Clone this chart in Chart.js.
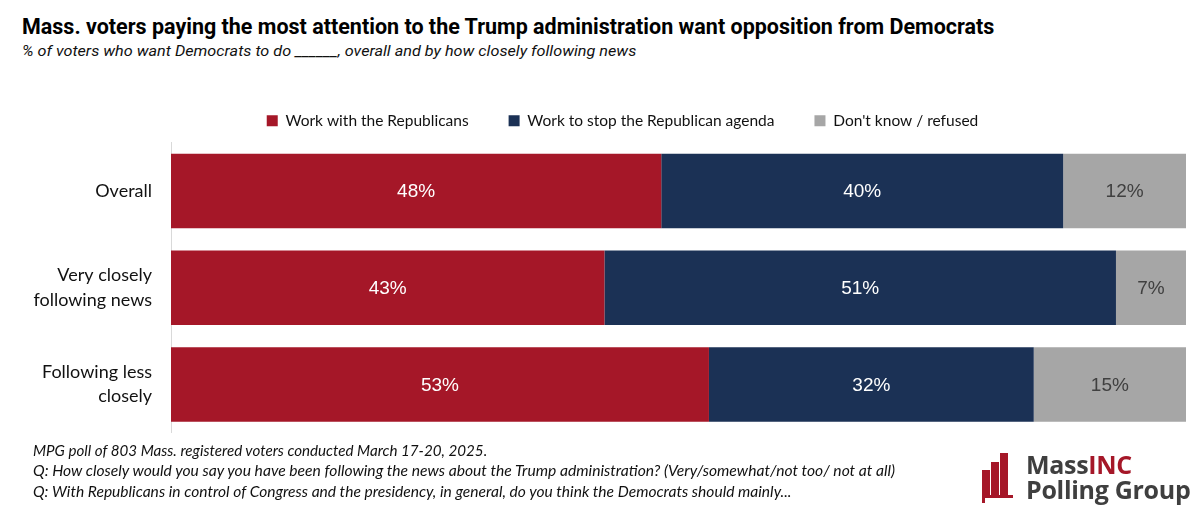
<!DOCTYPE html>
<html>
<head>
<meta charset="utf-8">
<script src="https://cdn.jsdelivr.net/npm/chart.js@4"></script>
<style>
  body { margin: 0; background: #fff; width: 1200px; height: 513px; position: relative; overflow: hidden; }
  #title { position: absolute; left: 22px; top: 14px; font: bold 22px Roboto, sans-serif; color: #000; white-space: nowrap; transform-origin: 0 0; }
  #subtitle { position: absolute; left: 22px; top: 42px; font: italic 15.5px Roboto, sans-serif; color: #111; white-space: nowrap; transform-origin: 0 0; }
  #wrap { position: absolute; left: 0; top: 77px; width: 1200px; height: 387px; }
  .note { position: absolute; left: 33px; font: italic 15.5px Lato, sans-serif; color: #111; white-space: nowrap; transform-origin: 0 0; }
  #logo { position: absolute; left: 980px; top: 450px; width: 215px; height: 56px; }
  #logo .b { position: absolute; background: #A51728; width: 8px; }
  #logo .t { position: absolute; left: 46px; font: bold 25px "Open Sans", sans-serif; color: #3f3f3f; line-height: 24px; white-space: nowrap; letter-spacing: -0.3px; }
</style>
</head>
<body>
<div id="title">Mass. voters paying the most attention to the Trump administration want opposition from Democrats</div>
<div id="subtitle">% of voters who want Democrats to do ______, overall and by how closely following news</div>
<div id="wrap"><canvas id="chart"></canvas></div>
<div class="note" id="n1" style="top:441px">MPG poll of 803 Mass. registered voters conducted March 17-20, 2025.</div>
<div class="note" id="n2" style="top:461px">Q: How closely would you say you have been following the news about the Trump administration? (Very/somewhat/not too/ not at all)</div>
<div class="note" id="n3" style="top:482px">Q: With Republicans in control of Congress and the presidency, in general, do you think the Democrats should mainly...</div>
<div id="logo">
  <div class="b" style="left:2px;top:20px;height:25px"></div>
  <div class="b" style="left:11px;top:12px;height:33px"></div>
  <div class="b" style="left:20px;top:3px;height:42px"></div>
  <div class="b" style="left:2px;top:45px;height:3px;width:31px"></div>
  <div class="b" style="left:2px;top:45px;height:8px;width:3px"></div>
  <div class="t" style="top:2px">Mass<span style="color:#A51728">INC</span></div>
  <div class="t" style="top:27px">Polling Group</div>
</div>
<script>
var categories = [['Overall'], ['Very closely', 'following news'], ['Following less', 'closely']];
var seriesNames = ['Work with the Republicans', 'Work to stop the Republican agenda', "Don't know / refused"];
var workWith = [48.3, 42.7, 53.0];
var workToStop = [39.6, 50.4, 32.0];
var dontKnow = [12.1, 6.9, 15.0];
var shownLabels = [[48, 43, 53], [40, 51, 32], [12, 7, 15]];

var barColors = ['#A51728', '#1B3155', '#A6A6A6'];
var labelColors = ['#ffffff', '#ffffff', '#404040'];

// squeeze the header lines to the widths they have in the original
function fitWidth(id, w) {
    var el = document.getElementById(id);
    el.style.transform = 'scaleX(' + (w / el.offsetWidth) + ')';
}
fitWidth('title', 972);
fitWidth('subtitle', 614);
fitWidth('n2', 862);
fitWidth('n3', 758);
fitWidth('n1', 454);

var barValues = {
    id: 'barValues',
    afterDatasetsDraw: function (chart) {
        var ctx = chart.ctx;
        ctx.save();
        ctx.font = '19px "Liberation Sans", Arial, sans-serif';
        ctx.textAlign = 'center';
        ctx.textBaseline = 'middle';
        chart.data.datasets.forEach(function (ds, i) {
            var meta = chart.getDatasetMeta(i);
            ctx.fillStyle = labelColors[i];
            meta.data.forEach(function (el, j) {
                ctx.fillText(shownLabels[i][j] + '%', (el.x + el.base) / 2, el.y + 1);
            });
        });
        ctx.restore();
    }
};

// legend in the original sits a little right of the page centre and a bit higher
var legendShift = {
    id: 'legendShift',
    afterLayout: function (chart) {
        chart.legend.left += 59;
        chart.legend.top -= 4;
    }
};

var ctx = document.getElementById('chart').getContext('2d');
var chart = new Chart(ctx, {
    type: 'bar',
    data: {
        labels: categories,
        datasets: [
            { label: seriesNames[0], data: workWith, backgroundColor: barColors[0] },
            { label: seriesNames[1], data: workToStop, backgroundColor: barColors[1] },
            { label: seriesNames[2], data: dontKnow, backgroundColor: barColors[2] }
        ]
    },
    options: {
        indexAxis: 'y',
        maintainAspectRatio: false,
        responsive: true,
        animation: false,
        layout: { padding: { left: 0, right: 14, top: 0, bottom: 0 } },
        datasets: { bar: { barPercentage: 0.77, categoryPercentage: 1, borderWidth: 0 } },
        plugins: {
            legend: {
                display: true,
                position: 'top',
                labels: {
                    boxWidth: 11,
                    boxHeight: 11,
                    padding: 40,
                    color: '#111',
                    font: { family: 'Lato', size: 15.5 }
                }
            },
            tooltip: { enabled: false }
        },
        scales: {
            x: {
                stacked: true,
                min: 0,
                max: 100,
                display: false
            },
            y: {
                stacked: true,
                grid: { display: false, drawTicks: false },
                border: { display: true, color: '#d9d9d9', width: 1 },
                ticks: {
                    color: '#111',
                    padding: 19,
                    font: { family: 'Lato', size: 18, lineHeight: 1.35 }
                },
                afterFit: function (scale) { scale.width = 171; }
            }
        }
    },
    plugins: [barValues, legendShift]
});
</script>
</body>
</html>
